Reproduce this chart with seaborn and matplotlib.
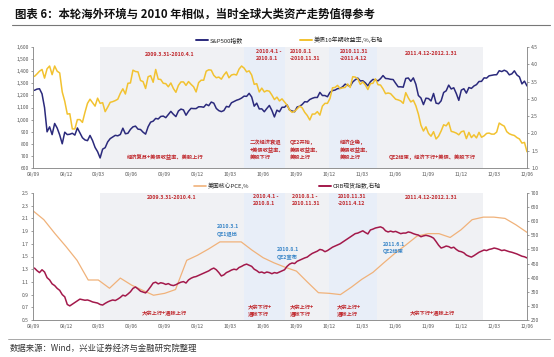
import matplotlib
matplotlib.use("Agg")
import matplotlib.pyplot as plt
import matplotlib.ticker as mticker
import matplotlib.dates as mdates
from matplotlib.lines import Line2D
import numpy as np
import pandas as pd
import seaborn as sns

# ---- data (weekly, Fridays from 2008-09-05) ----
spx_2008 = [1242, 1252, 1255, 1213, 1099, 899, 940, 876, 968, 930, 873, 800, 896, 876, 879, 887, 872]
spx_2009 = [931, 890, 850, 832, 826, 869, 827, 770, 735, 683, 756, 768, 816, 843, 857, 870, 866,
            877, 929, 883, 887, 919, 940, 946, 921, 918, 896, 880, 941, 979, 987, 1010, 1005, 1026, 1029,
            1016, 1042, 1068, 1044, 1025, 1071, 1087, 1080, 1036, 1069, 1093, 1091, 1091, 1106, 1106, 1102, 1126, 1115]
spx_2010 = [1145, 1136, 1092, 1074, 1066, 1075, 1109, 1104, 1139, 1150, 1160, 1167, 1178, 1194, 1192, 1217, 1187,
            1111, 1136, 1088, 1089, 1065, 1092, 1117, 1076, 1022, 1078, 1065, 1102, 1102, 1122, 1079, 1071, 1065,
            1104, 1110, 1125, 1148, 1146, 1166, 1176, 1183, 1183, 1225, 1199, 1199, 1189, 1225, 1240, 1244, 1256, 1258]
spx_2011 = [1271, 1293, 1283, 1276, 1311, 1329, 1343, 1320, 1321, 1304, 1279, 1313, 1332, 1328, 1320, 1338, 1364,
            1340, 1338, 1333, 1331, 1300, 1271, 1271, 1268, 1340, 1344, 1316, 1345, 1292, 1199, 1179, 1124, 1177,
            1174, 1154, 1216, 1136, 1131, 1155, 1224, 1238, 1285, 1253, 1263, 1216, 1159, 1244, 1255, 1219, 1265, 1258]
spx_2012 = [1278, 1289, 1315, 1316, 1345, 1343, 1362, 1366, 1370, 1371, 1404, 1397, 1408, 1398, 1370, 1378, 1403,
            1369, 1353, 1295, 1318, 1278]

ust_2008 = [3.65, 3.72, 3.80, 3.85, 3.60, 3.87, 3.95, 3.70, 3.95, 3.80, 3.75, 3.20, 2.93, 2.56, 2.57, 2.13, 2.13]
ust_2009 = [2.40, 2.40, 2.32, 2.61, 2.87, 2.99, 2.89, 2.79, 3.02, 2.87, 2.89, 2.63, 2.76, 2.90, 2.92, 2.95, 2.99,
            3.16, 3.29, 3.14, 3.45, 3.46, 3.83, 3.79, 3.78, 3.53, 3.50, 3.30, 3.64, 3.67, 3.48, 3.85, 3.57, 3.56, 3.45,
            3.44, 3.35, 3.46, 3.30, 3.19, 3.39, 3.49, 3.49, 3.39, 3.50, 3.42, 3.35, 3.20, 3.47, 3.54, 3.54, 3.80, 3.84]
ust_2010 = [3.83, 3.68, 3.61, 3.63, 3.57, 3.69, 3.78, 3.61, 3.69, 3.71, 3.69, 3.86, 3.95, 3.89, 3.78, 3.81, 3.69,
            3.42, 3.44, 3.20, 3.31, 3.20, 3.24, 3.22, 3.11, 2.98, 3.05, 2.94, 3.00, 2.91, 2.82, 2.68, 2.61, 2.64,
            2.71, 2.79, 2.74, 2.61, 2.52, 2.39, 2.56, 2.56, 2.63, 2.53, 2.79, 2.87, 2.87, 3.01, 3.32, 3.33, 3.39, 3.30]
ust_2011 = [3.32, 3.33, 3.43, 3.33, 3.64, 3.63, 3.58, 3.42, 3.49, 3.40, 3.27, 3.44, 3.45, 3.58, 3.41, 3.40, 3.29,
            3.15, 3.17, 3.15, 3.07, 2.99, 2.97, 2.94, 2.87, 3.18, 3.03, 2.91, 2.96, 2.80, 2.56, 2.24, 2.07, 2.19,
            2.00, 1.92, 2.05, 1.84, 1.92, 2.07, 2.25, 2.22, 2.32, 2.06, 2.04, 2.01, 1.96, 2.05, 2.07, 1.85, 2.03, 1.88]
ust_2012 = [1.96, 1.87, 2.03, 1.89, 1.93, 2.00, 2.01, 1.98, 1.98, 2.04, 2.30, 2.25, 2.21, 2.05, 1.99, 1.96, 1.94,
            1.88, 1.84, 1.72, 1.74, 1.47]

crb_2008 = [434, 425, 418, 428, 420, 400, 392, 378, 372, 362, 355, 340, 332, 305, 300, 306, 312]
crb_2009 = [318, 324, 322, 320, 321, 318, 314, 312, 310, 305, 303, 309, 314, 318, 321, 319, 324,
            330, 338, 335, 342, 350, 362, 367, 360, 352, 349, 346, 356, 368, 381, 384, 378, 382, 380,
            376, 379, 374, 372, 375, 380, 384, 386, 381, 392, 398, 402, 404, 408, 412, 416, 420, 424]
crb_2010 = [430, 434, 428, 418, 406, 410, 418, 422, 427, 430, 428, 436, 440, 445, 448, 444, 440,
            430, 425, 418, 420, 416, 420, 418, 414, 418, 416, 420, 424, 428, 440, 448, 452, 450,
            458, 462, 466, 470, 473, 480, 486, 490, 494, 500, 498, 492, 496, 502, 508, 512, 516, 520]
crb_2011 = [526, 532, 538, 544, 550, 556, 558, 562, 566, 560, 555, 569, 572, 576, 578, 580, 576,
            566, 562, 565, 562, 564, 560, 556, 558, 558, 562, 560, 556, 553, 551, 545, 548, 550,
            548, 545, 540, 528, 515, 505, 508, 512, 510, 505, 508, 500, 494, 492, 488, 480, 476, 473]
crb_2012 = [478, 484, 490, 494, 498, 496, 500, 502, 505, 503, 500, 496, 498, 495, 492, 490, 487,
            484, 480, 476, 474, 470]

# monthly, from 2008-09
core_pce = [2.22, 2.08, 1.86, 1.66, 1.44, 1.13, 1.13, 1.00, 1.16, 1.05,
            0.97, 0.89, 0.92, 0.98, 1.44, 1.52, 1.62, 1.73, 1.73, 1.73,
            1.60, 1.48, 1.40, 1.33, 1.27, 1.10, 0.93, 0.92, 0.90, 1.02,
            1.14, 1.25, 1.40, 1.55, 1.68, 1.82, 1.86, 1.86, 1.80, 1.92,
            2.08, 2.12, 2.12, 2.10, 2.00, 1.88]

period_starts = ["2009-03-06", "2010-04-10", "2010-08-01", "2010-12-01", "2011-04-12"]
period_ends = ["2010-04-10", "2010-08-01", "2010-12-01", "2011-04-12", "2012-01-31"]
period_colors = ["#f0f1f4", "#e8eef8", "#f0f1f4", "#e8eef8", "#f0f1f4"]

spx = spx_2008 + spx_2009 + spx_2010 + spx_2011 + spx_2012
ust = ust_2008 + ust_2009 + ust_2010 + ust_2011 + ust_2012
crb = crb_2008 + crb_2009 + crb_2010 + crb_2011 + crb_2012

weeks = pd.date_range("2008-09-05", periods=len(spx), freq="W-FRI")
months = pd.date_range("2008-09-01", periods=len(core_pce), freq="MS")
df_w = pd.DataFrame({"date": weeks, "spx": spx, "ust": ust, "crb": crb})
df_m = pd.DataFrame({"date": months, "pce": core_pce})

RED = "#c0282d"
BLUE = "#3a86c8"
NAVY = "#2b2a7c"
GOLD = "#f2c230"
TAN = "#f0b27a"
CRIMSON = "#a3194b"

sns.set_theme(style="white")
plt.rcParams['font.family'] = ['Noto Sans CJK SC', 'DejaVu Sans']
plt.rcParams['axes.unicode_minus'] = False

fig = plt.figure(figsize=(5.54, 3.57), dpi=100)
W, H = 554.0, 357.0
ax_top = fig.add_axes([33 / W, 1 - 168 / H, 494 / W, 121 / H])
ax_bot = fig.add_axes([33 / W, 1 - 320 / H, 494 / W, 127 / H])
ax_top_r = ax_top.twinx()
ax_bot_r = ax_bot.twinx()

xmin, xmax = pd.Timestamp("2008-09-01"), pd.Timestamp("2012-06-01")
ticks = pd.date_range("2008-09-01", "2012-06-01", freq="3MS")

for ax in (ax_top, ax_bot):
    for s, e, c in zip(period_starts, period_ends, period_colors):
        ax.axvspan(pd.Timestamp(s), pd.Timestamp(e), color=c, lw=0, zorder=0)

sns.lineplot(data=df_w, x="date", y="spx", ax=ax_top, color=NAVY, lw=1.1, legend=False)
sns.lineplot(data=df_w, x="date", y="ust", ax=ax_top_r, color=GOLD, lw=1.1, legend=False)
sns.lineplot(data=df_m, x="date", y="pce", ax=ax_bot, color=TAN, lw=0.9, legend=False)
sns.lineplot(data=df_w, x="date", y="crb", ax=ax_bot_r, color=CRIMSON, lw=1.1, legend=False)

ax_top.set_ylim(600, 1600)
ax_top.set_yticks(np.arange(600, 1601, 100))
ax_top.yaxis.set_major_formatter(mticker.StrMethodFormatter("{x:,.0f}"))
ax_top_r.set_ylim(1.0, 4.5)
ax_top_r.set_yticks(np.arange(1.0, 4.51, 0.5))
ax_top_r.yaxis.set_major_formatter(mticker.FormatStrFormatter("%.1f"))
ax_bot.set_ylim(0.5, 2.5)
ax_bot.set_yticks(np.arange(0.5, 2.51, 0.2))
ax_bot.yaxis.set_major_formatter(mticker.FormatStrFormatter("%.1f"))
ax_bot_r.set_ylim(250, 700)
ax_bot_r.set_yticks(np.arange(250, 701, 50))

for ax in (ax_top, ax_top_r, ax_bot, ax_bot_r):
    ax.set_xlim(xmin, xmax)
    ax.set_xticks(ticks)
    ax.xaxis.set_major_formatter(mdates.DateFormatter("%y/%m"))
    ax.set_xlabel("")
    ax.set_ylabel("")
    ax.grid(False)
    ax.tick_params(labelsize=3.6, length=1.5, width=0.4, colors="#555555", pad=1.5)
    ax.spines["top"].set_visible(False)
    for side in ("left", "right", "bottom"):
        ax.spines[side].set_color("#8a8a8a")
        ax.spines[side].set_linewidth(0.5)
ax_top_r.patch.set_visible(False)
ax_bot_r.patch.set_visible(False)

# legends
h1 = Line2D([], [], color=NAVY, lw=1.4)
h2 = Line2D([], [], color=GOLD, lw=1.4)
ax_top_r.legend([h1, h2], ["S&P500指数", "美债10年期收益率,%,右轴"], loc="lower center",
                bbox_to_anchor=(0.52, 1.0), ncol=2, frameon=False, fontsize=4.3,
                columnspacing=9.5, handlelength=2.0, handletextpad=0.3, borderaxespad=0.3)
h3 = Line2D([], [], color=TAN, lw=1.2)
h4 = Line2D([], [], color=CRIMSON, lw=1.4)
ax_bot_r.legend([h3, h4], ["美国核心PCE,%", "CRB现货指数,右轴"], loc="lower center",
                bbox_to_anchor=(0.515, 1.0), ncol=2, frameon=False, fontsize=4.2,
                columnspacing=12, handlelength=2.0, handletextpad=0.3, borderaxespad=0.3)


def note(ax, x, y, s, color=RED, ha="left"):
    ax.text(x, y, s, transform=ax.transAxes, ha=ha, va="center", fontsize=3.8,
            color=color, fontweight="bold", linespacing=1.5, zorder=6)


# top panel notes
note(ax_top_r, 0.277, 0.934, "2009.3.31-2010.4.1", ha="center")
note(ax_top_r, 0.267, 0.091, "经济复苏+美债收益率、美股上行", ha="center")
note(ax_top_r, 0.452, 0.938, "2010.4.1 -\n2010.8.1")
note(ax_top_r, 0.439, 0.149, "二次经济衰退\n+美债收益率、\n美股下行")
note(ax_top_r, 0.520, 0.938, "2010.8.1\n-2010.11.31")
note(ax_top_r, 0.520, 0.149, "QE2开始，\n美债收益率、\n美股上行")
note(ax_top_r, 0.621, 0.938, "2010.11.31\n-2011.4.12")
note(ax_top_r, 0.621, 0.149, "经济企稳，\n美债收益率、\n美股上行")
note(ax_top_r, 0.806, 0.950, "2011.4.12-2012.1.31", ha="center")
note(ax_top_r, 0.808, 0.091, "QE2结束，经济下行+美债、美股下行", ha="center")

# bottom panel notes
note(ax_bot_r, 0.281, 0.961, "2009.3.31-2010.4.1", ha="center")
note(ax_bot_r, 0.265, 0.055, "大宗上行+通胀上行", ha="center")
note(ax_bot_r, 0.445, 0.945, "2010.4.1 -\n2010.8.1")
note(ax_bot_r, 0.372, 0.705, "2010.3.1\nQE1退出", color=BLUE)
note(ax_bot_r, 0.524, 0.945, "2010.8.1 -\n2010.11.31")
note(ax_bot_r, 0.494, 0.524, "2010.8.1\nQE2宣布", color=BLUE)
note(ax_bot_r, 0.617, 0.945, "2010.11.31\n-2011.4.12")
note(ax_bot_r, 0.435, 0.071, "大宗下行+\n通胀下行")
note(ax_bot_r, 0.520, 0.071, "大宗上行+\n通胀下行")
note(ax_bot_r, 0.615, 0.071, "大宗上行+\n通胀上行")
note(ax_bot_r, 0.806, 0.961, "2011.4.12-2012.1.31", ha="center")
note(ax_bot_r, 0.709, 0.567, "2011.6.1\nQE2结束", color=BLUE)
note(ax_bot_r, 0.808, 0.055, "大宗下行+通胀上行", ha="center")

# title and source
fig.text(15 / W, 1 - 14 / H, "图表 6：本轮海外环境与 2010 年相似，当时全球大类资产走势值得参考",
         fontsize=8.2, fontweight="bold", va="center", ha="left", color="#111111")
fig.add_artist(Line2D([12 / W, 550 / W], [1 - 25 / H, 1 - 25 / H], color="#777777", lw=0.8))
fig.add_artist(Line2D([8 / W, 550 / W], [1 - 339 / H, 1 - 339 / H], color="#999999", lw=0.6))
fig.text(10 / W, 1 - 348 / H, "数据来源：Wind，兴业证券经济与金融研究院整理",
         fontsize=6, va="center", ha="left", color="#333333")

fig.savefig("out.png", dpi=100)
